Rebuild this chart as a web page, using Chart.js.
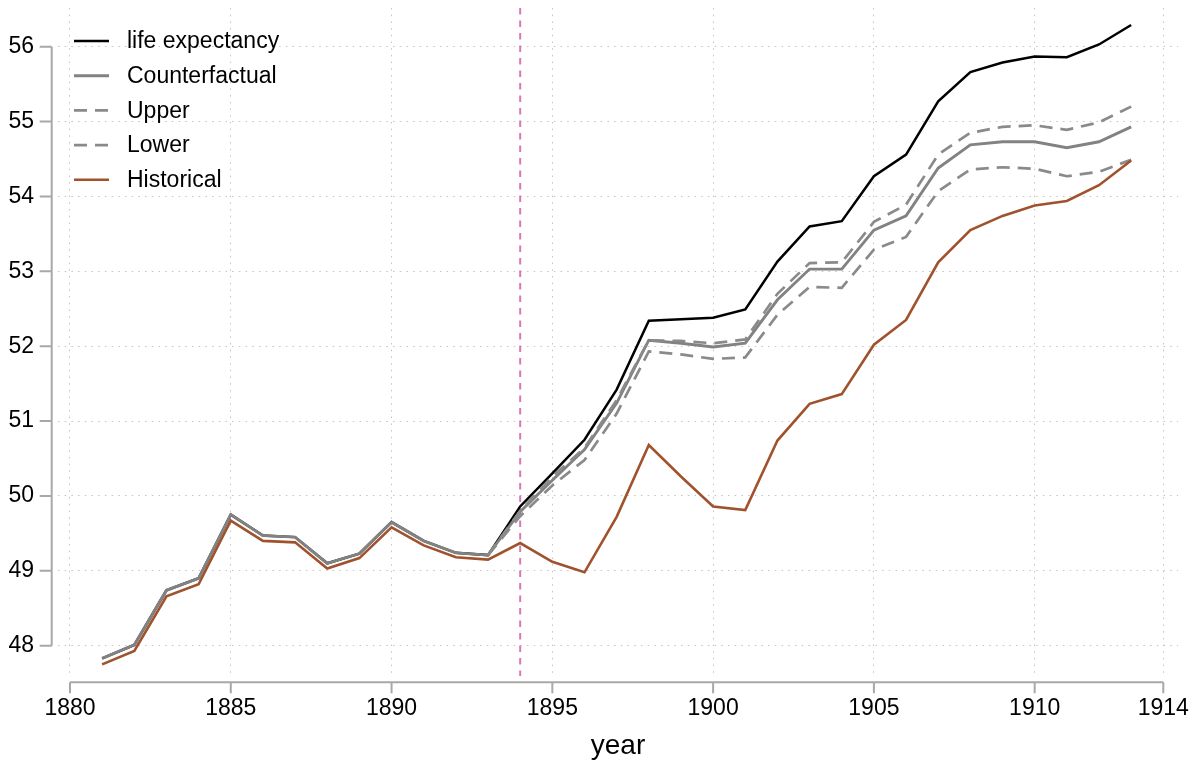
<!DOCTYPE html>
<html>
<head>
<meta charset="utf-8">
<script src="https://cdn.jsdelivr.net/npm/chart.js@4"></script>
<style>
  body { margin: 0; background: #fff; }
  #wrap { width: 1200px; height: 763px; }
</style>
</head>
<body>
<div id="wrap"><canvas id="grafico"></canvas></div>
<script>
// dados
const years = [1881, 1882, 1883, 1884, 1885, 1886, 1887, 1888, 1889, 1890,
               1891, 1892, 1893, 1894, 1895, 1896, 1897, 1898, 1899, 1900,
               1901, 1902, 1903, 1904, 1905, 1906, 1907, 1908, 1909, 1910,
               1911, 1912, 1913];

const lifeExpectancy = [47.83, 48.01, 48.74, 48.90, 49.75, 49.47, 49.45, 49.10, 49.23, 49.65,
                        49.40, 49.24, 49.21, 49.86, 50.30, 50.75, 51.42, 52.34, 52.36, 52.38,
                        52.49, 53.13, 53.60, 53.67, 54.27, 54.56, 55.27, 55.66, 55.79, 55.87,
                        55.86, 56.03, 56.29];

const counterfactual = [47.83, 48.01, 48.74, 48.90, 49.75, 49.47, 49.45, 49.10, 49.23, 49.65,
                        49.40, 49.24, 49.21, 49.79, 50.21, 50.62, 51.24, 52.08, 52.04, 51.99,
                        52.04, 52.62, 53.03, 53.03, 53.55, 53.74, 54.38, 54.69, 54.73, 54.73,
                        54.65, 54.73, 54.93];

const upper = [null, null, null, null, null, null, null, null, null, null,
               null, null, 49.21, 49.80, 50.26, 50.64, 51.28, 52.08, 52.07, 52.04,
               52.09, 52.70, 53.11, 53.12, 53.66, 53.89, 54.56, 54.85, 54.93, 54.95,
               54.89, 54.99, 55.20];

const lower = [null, null, null, null, null, null, null, null, null, null,
               null, null, 49.21, 49.73, 50.14, 50.48, 51.10, 51.93, 51.89, 51.83,
               51.85, 52.42, 52.79, 52.78, 53.29, 53.46, 54.07, 54.36, 54.39, 54.37,
               54.27, 54.33, 54.49];

const historical = [47.75, 47.93, 48.66, 48.82, 49.67, 49.40, 49.38, 49.03, 49.17, 49.58,
                    49.34, 49.18, 49.15, 49.37, 49.12, 48.98, 49.72, 50.68, 50.26, 49.86,
                    49.81, 50.74, 51.23, 51.36, 52.02, 52.35, 53.12, 53.55, 53.74, 53.88,
                    53.94, 54.15, 54.48];

const xTicks = [1880, 1885, 1890, 1895, 1900, 1905, 1910, 1914];
const yTicks = [48, 49, 50, 51, 52, 53, 54, 55, 56];
const markYear = 1894;

const FONT = "'Liberation Sans', Arial, Helvetica, sans-serif";
const AXIS_COLOR = '#a8a8a8';
const GRID_COLOR = '#c4c4c4';

function pontos(serie) {
    return years.map((ano, i) => ({ x: ano, y: serie[i] }));
}

// tira o espaço extra que o Chart.js reserva para os rótulos
function semPadding(scale) {
    scale.paddingTop = 0;
    scale.paddingBottom = 0;
    scale.paddingLeft = 0;
    scale.paddingRight = 0;
}

// linhas de eixo, linha vertical, legenda e título
const decor = {
    id: 'decor',
    beforeDatasetsDraw(chart) {
        const { ctx, chartArea, scales: { x } } = chart;
        const px = x.getPixelForValue(markYear);
        ctx.save();
        ctx.strokeStyle = '#d87ab0';
        ctx.lineWidth = 2;
        ctx.setLineDash([6.5, 6]);
        ctx.beginPath();
        ctx.moveTo(px, chartArea.top);
        ctx.lineTo(px, chartArea.bottom);
        ctx.stroke();
        ctx.restore();
    },
    afterDraw(chart) {
        const { ctx, chartArea, scales: { x, y } } = chart;
        ctx.save();
        ctx.strokeStyle = AXIS_COLOR;
        ctx.lineWidth = 2;
        ctx.setLineDash([]);

        // eixo y
        const ax = chartArea.left - 6.3;
        ctx.beginPath();
        ctx.moveTo(ax, y.getPixelForValue(yTicks[yTicks.length - 1]));
        ctx.lineTo(ax, y.getPixelForValue(yTicks[0]));
        yTicks.forEach(v => {
            const py = y.getPixelForValue(v);
            ctx.moveTo(ax - 12, py);
            ctx.lineTo(ax, py);
        });
        ctx.stroke();

        // eixo x
        const ay = chartArea.bottom + 6.3;
        ctx.beginPath();
        ctx.moveTo(x.getPixelForValue(xTicks[0]), ay);
        ctx.lineTo(x.getPixelForValue(xTicks[xTicks.length - 1]), ay);
        xTicks.forEach(v => {
            const px = x.getPixelForValue(v);
            ctx.moveTo(px, ay);
            ctx.lineTo(px, ay + 11);
        });
        ctx.stroke();

        // título do eixo x
        ctx.fillStyle = '#000';
        ctx.font = '28px ' + FONT;
        ctx.textAlign = 'center';
        ctx.textBaseline = 'middle';
        ctx.fillText('year', (chartArea.left + chartArea.right) / 2, 746);

        // legenda
        ctx.font = '23px ' + FONT;
        ctx.textAlign = 'left';
        chart.data.datasets.forEach((ds, i) => {
            const ly = 41 + i * 34.7;
            ctx.strokeStyle = ds.borderColor;
            ctx.lineWidth = ds.borderWidth;
            ctx.setLineDash(ds.borderDash || []);
            ctx.beginPath();
            ctx.moveTo(74, ly);
            ctx.lineTo(109, ly);
            ctx.stroke();
            ctx.fillText(ds.label, 127, ly + 1);
        });
        ctx.restore();
    }
};

const ctx = document.getElementById('grafico').getContext('2d');

new Chart(ctx, {
    type: 'line',
    data: {
        datasets: [
            { label: 'life expectancy', data: pontos(lifeExpectancy), borderColor: '#000000', borderWidth: 2.5, order: 5 },
            { label: 'Counterfactual', data: pontos(counterfactual), borderColor: '#828282', borderWidth: 2.9, order: 4 },
            { label: 'Upper', data: pontos(upper), borderColor: '#8a8a8a', borderWidth: 2.7, borderDash: [13, 8], order: 3 },
            { label: 'Lower', data: pontos(lower), borderColor: '#8a8a8a', borderWidth: 2.7, borderDash: [13, 8], order: 2 },
            { label: 'Historical', data: pontos(historical), borderColor: '#a0522d', borderWidth: 2.6, order: 1 }
        ]
    },
    options: {
        responsive: true,
        maintainAspectRatio: false,
        animation: false,
        layout: { padding: { top: 8, right: 22, left: 0, bottom: 0 } },
        elements: {
            point: { radius: 0 },
            line: { tension: 0, borderCapStyle: 'butt', borderJoinStyle: 'miter' }
        },
        plugins: {
            legend: { display: false },
            tooltip: { enabled: false }
        },
        scales: {
            x: {
                type: 'linear',
                min: 1879.627,
                max: 1914.457,
                afterBuildTicks: (scale) => { scale.ticks = xTicks.map(v => ({ value: v })); },
                afterFit: (scale) => { scale.height = 87; semPadding(scale); },
                ticks: {
                    color: '#000',
                    font: { family: FONT, size: 23 },
                    padding: 19,
                    maxRotation: 0,
                    autoSkip: false,
                    callback: (v) => String(v)
                },
                grid: { color: GRID_COLOR, lineWidth: 1, drawTicks: false },
                border: { display: false, dash: [1.5, 5.2] }
            },
            y: {
                type: 'linear',
                min: 47.595,
                max: 56.517,
                afterBuildTicks: (scale) => { scale.ticks = yTicks.map(v => ({ value: v })); },
                afterFit: (scale) => { scale.width = 58; semPadding(scale); },
                ticks: {
                    color: '#000',
                    font: { family: FONT, size: 23 },
                    padding: 24,
                    autoSkip: false,
                    callback: (v) => String(v)
                },
                grid: { color: GRID_COLOR, lineWidth: 1, drawTicks: false },
                border: { display: false, dash: [1.5, 5.2] }
            }
        }
    },
    plugins: [decor]
});
</script>
</body>
</html>
